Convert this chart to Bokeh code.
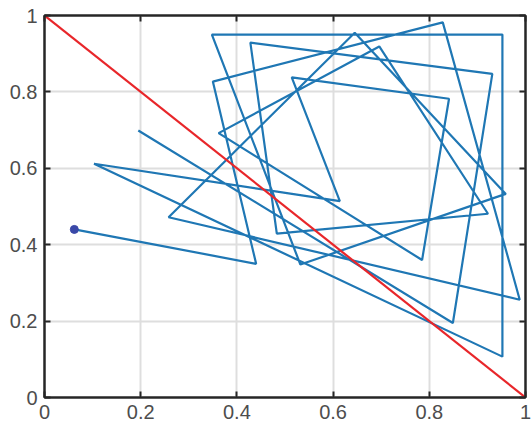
from bokeh.plotting import figure
from bokeh.models import Range1d, LinearAxis, FixedTicker, Grid
from bokeh.embed import file_html
from bokeh.resources import INLINE

# path vertices, in drawing order
path_x = [0.062, 0.440, 0.350, 0.828, 0.988, 0.258, 0.645, 0.959, 0.532, 0.348,
          0.952, 0.952, 0.103, 0.614, 0.514, 0.841, 0.785, 0.362, 0.696, 0.922,
          0.483, 0.428, 0.931, 0.849, 0.195]
path_y = [0.440, 0.350, 0.827, 0.982, 0.256, 0.472, 0.955, 0.533, 0.348, 0.950,
          0.950, 0.107, 0.612, 0.514, 0.838, 0.782, 0.360, 0.692, 0.919, 0.481,
          0.429, 0.929, 0.847, 0.195, 0.699]
diag_x = [0.0, 1.0]
diag_y = [1.0, 0.0]
ticks = [0, 0.2, 0.4, 0.6, 0.8, 1]
tick_labels = {0: "0", 0.2: "0.2", 0.4: "0.4", 0.6: "0.6", 0.8: "0.8", 1: "1"}

p = figure(width=532, height=438, x_range=Range1d(0, 1), y_range=Range1d(0, 1),
           output_backend="svg", toolbar_location=None,
           min_border_left=44, min_border_right=7, min_border_top=15, min_border_bottom=41,
           x_axis_type=None, y_axis_type=None)
p.background_fill_color = "white"
p.border_fill_color = "white"
p.outline_line_color = "#262626"
p.outline_line_width = 2

def make_axis(show_labels):
    ax = LinearAxis(ticker=FixedTicker(ticks=ticks))
    ax.major_label_overrides = tick_labels
    ax.axis_line_color = "#262626"
    ax.axis_line_width = 2
    ax.major_tick_line_color = "#262626"
    ax.major_tick_line_width = 2
    ax.major_tick_in = 6
    ax.major_tick_out = 0
    ax.minor_tick_line_color = None
    if show_labels:
        ax.major_label_text_font = "Liberation Sans"
        ax.major_label_text_font_size = "20px"
        ax.major_label_text_color = "#4d4d4d"
        ax.major_label_standoff = 7
    else:
        ax.major_label_text_color = None
        ax.major_label_text_font_size = "1px"
        ax.major_label_standoff = 0
    return ax

p.add_layout(make_axis(True), "below")
p.add_layout(make_axis(True), "left")
p.add_layout(make_axis(False), "above")
p.add_layout(make_axis(False), "right")

p.add_layout(Grid(dimension=0, ticker=FixedTicker(ticks=ticks), grid_line_color="#dedede", grid_line_width=2))
p.add_layout(Grid(dimension=1, ticker=FixedTicker(ticks=ticks), grid_line_color="#dedede", grid_line_width=2))

p.line(path_x, path_y, line_color="#1f77b4", line_width=2.2)
p.line(diag_x, diag_y, line_color="#e8262a", line_width=2.2)
p.scatter([path_x[0]], [path_y[0]], size=8, fill_color="#3a48a8", line_color="#3a48a8")

open("out.html", "w").write(file_html(p, INLINE))
